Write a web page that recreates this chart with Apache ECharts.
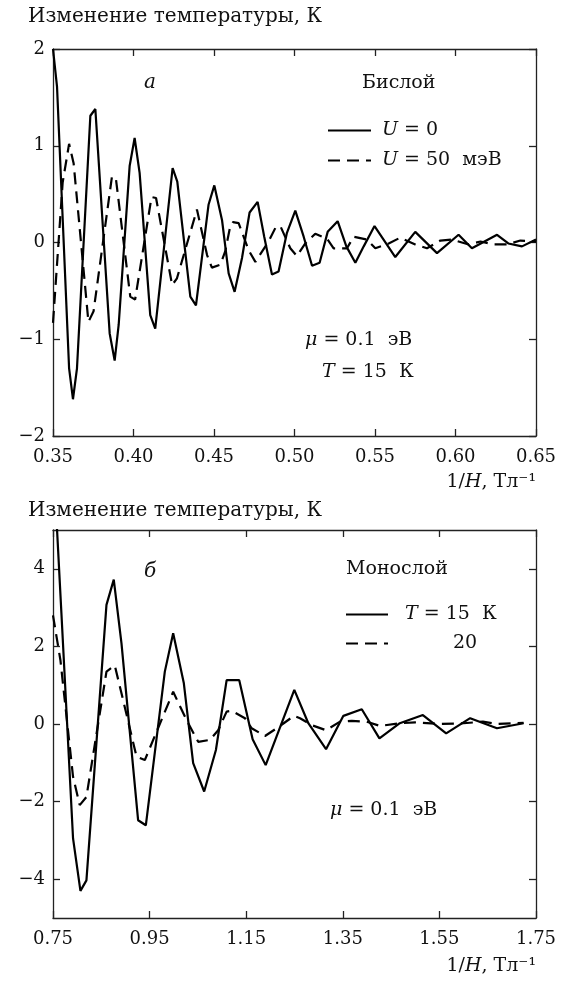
<!DOCTYPE html>
<html>
<head>
<meta charset="utf-8">
<script src="https://cdn.jsdelivr.net/npm/echarts@6/dist/echarts.min.js"></script>
<style>
  html, body { margin: 0; padding: 0; background: #fff; }
  #main { width: 567px; height: 981px; }
</style>
</head>
<body>
<div id="main"></div>
<script>
// --- данные: бислой (верхний график)
var biU0X = [0.350,0.3525,0.360,0.3624,0.3649,0.3732,0.3763,0.3852,0.3883,0.3908,0.3976,0.4007,0.4038,0.4104,0.4135,0.4243,0.4272,0.4353,0.4388,0.4466,0.4502,0.4550,0.4591,0.4628,0.4674,0.4721,0.4771,0.4812,0.4860,0.4901,0.4953,0.5005,0.5057,0.5109,0.5156,0.5206,0.5268,0.5322,0.5378,0.5430,0.5497,0.5626,0.5750,0.5885,0.6019,0.6102,0.6258,0.6328,0.6413,0.650];
var biU0Y = [2.00,1.61,-1.30,-1.62,-1.30,1.31,1.38,-0.94,-1.22,-0.85,0.79,1.08,0.72,-0.75,-0.89,0.77,0.63,-0.56,-0.65,0.39,0.59,0.23,-0.32,-0.51,-0.16,0.31,0.42,0.06,-0.33,-0.30,0.10,0.33,0.06,-0.24,-0.21,0.11,0.22,-0.04,-0.21,-0.04,0.17,-0.15,0.11,-0.11,0.08,-0.06,0.08,-0.01,-0.04,0.03];
var biU50X = [0.350,0.3560,0.3600,0.3628,0.3720,0.3752,0.3866,0.3890,0.3980,0.4010,0.4112,0.4140,0.4240,0.4270,0.4394,0.4457,0.4487,0.4539,0.4570,0.4601,0.4618,0.4653,0.4715,0.4757,0.4839,0.4881,0.4912,0.4974,0.5015,0.5067,0.5129,0.5202,0.5243,0.5326,0.5367,0.5450,0.5502,0.5585,0.5657,0.5750,0.5823,0.5906,0.5978,0.6082,0.6155,0.6238,0.6321,0.6403,0.650];
var biU50Y = [-0.83,0.62,1.02,0.82,-0.82,-0.71,0.68,0.67,-0.56,-0.59,0.47,0.46,-0.44,-0.37,0.34,-0.13,-0.26,-0.23,-0.09,0.17,0.21,0.20,-0.08,-0.20,0.01,0.15,0.17,-0.06,-0.14,-0.01,0.09,0.04,-0.06,-0.06,0.06,0.03,-0.06,-0.01,0.05,-0.02,-0.06,0.02,0.03,-0.02,0.01,-0.02,-0.02,0.02,0.01];

// --- данные: монослой (нижний график)
var monoT15X = [0.750,0.7674,0.7915,0.8068,0.8192,0.8607,0.8758,0.8918,0.9262,0.9422,0.9815,0.9988,1.0209,1.0402,1.0630,1.0873,1.1095,1.1356,1.1633,1.1903,1.2496,1.2786,1.3153,1.3512,1.3893,1.4258,1.4680,1.5158,1.5640,1.6137,1.6692,1.7243];
var monoT15Y = [7.0,2.86,-2.95,-4.30,-4.03,3.07,3.72,2.08,-2.48,-2.61,1.35,2.34,1.05,-1.01,-1.74,-0.67,1.13,1.13,-0.39,-1.06,0.88,0.02,-0.65,0.21,0.38,-0.37,0.02,0.23,-0.24,0.15,-0.11,0.02];
var monoT20X = [0.750,0.7653,0.7915,0.8053,0.8192,0.8607,0.8779,0.8951,0.9229,0.9401,0.9988,1.0265,1.0506,1.0748,1.0920,1.1095,1.1198,1.1474,1.1613,1.1889,1.2131,1.2490,1.2614,1.2857,1.3153,1.3443,1.3686,1.3997,1.4273,1.4680,1.5000,1.5500,1.6000,1.6400,1.6700,1.7243];
var monoT20Y = [2.80,1.65,-1.36,-2.09,-1.88,1.35,1.51,0.62,-0.84,-0.93,0.83,0.10,-0.46,-0.41,-0.16,0.32,0.34,0.15,-0.11,-0.31,-0.11,0.21,0.15,-0.03,-0.16,0.06,0.08,0.06,-0.05,0.02,0.04,0.00,0.02,0.06,0.00,0.03];

// --- деления осей
var biXTicks = [0.35,0.40,0.45,0.50,0.55,0.60,0.65];
var biYTicks = [-2,-1,0,1,2];
var monoXTicks = [0.75,0.95,1.15,1.35,1.55,1.75];
var monoYTicks = [-4,-2,0,2,4];

var FONT = '"DejaVu Serif", serif';
var INK = '#111';

function zip(xs, ys) {
    var out = [];
    for (var i = 0; i < xs.length; i++) out.push([xs[i], ys[i]]);
    return out;
}

function minus(s) {
    return String(s).replace('-', '\u2212');
}

function makeAxis(grid, pos, min, max, ticks, labels, digits) {
    return {
        type: 'value',
        gridIndex: grid,
        position: pos,
        min: min,
        max: max,
        axisLine: { show: true, onZero: false, lineStyle: { color: '#222', width: 1.3 } },
        axisTick: { show: true, inside: true, length: 7, customValues: ticks, lineStyle: { color: '#222', width: 1.3 } },
        axisLabel: {
            show: labels,
            customValues: ticks,
            margin: (pos == 'bottom') ? 12 : 8,
            color: INK,
            fontFamily: FONT,
            fontSize: 18,
            formatter: function (v) { return minus(digits ? v.toFixed(digits) : v); }
        },
        splitLine: { show: false }
    };
}

function txt(x, y, text, size, align, italic) {
    return {
        type: 'text',
        x: x,
        y: y,
        style: {
            text: text,
            fill: INK,
            font: (italic ? 'italic ' : '') + size + 'px ' + FONT,
            align: align || 'left',
            verticalAlign: 'middle',
            rich: {
                i: { fontStyle: 'italic', fontFamily: FONT, fontSize: size, fill: INK }
            }
        }
    };
}

function lineSeries(name, data, xi, yi, dashed) {
    return {
        name: name,
        type: 'line',
        xAxisIndex: xi,
        yAxisIndex: yi,
        data: data,
        symbol: 'none',
        clip: true,
        animation: false,
        itemStyle: { color: '#000' },
        lineStyle: { color: '#000', width: 2.2, type: dashed ? [12, 7] : 'solid' }
    };
}

var chart = echarts.init(document.getElementById('main'), null, { renderer: 'canvas' });

var option = {
    backgroundColor: '#fff',
    animation: false,
    grid: [
        { left: 53, top: 49, width: 483, height: 387 },
        { left: 53, top: 530, width: 483, height: 388 }
    ],
    xAxis: [
        makeAxis(0, 'bottom', 0.35, 0.65, biXTicks, true, 2),
        makeAxis(0, 'top', 0.35, 0.65, biXTicks, false, 2),
        makeAxis(1, 'bottom', 0.75, 1.75, monoXTicks, true, 2),
        makeAxis(1, 'top', 0.75, 1.75, monoXTicks, false, 2)
    ],
    yAxis: [
        makeAxis(0, 'left', -2, 2, biYTicks, true, 0),
        makeAxis(0, 'right', -2, 2, biYTicks, false, 0),
        makeAxis(1, 'left', -5, 5, monoYTicks, true, 0),
        makeAxis(1, 'right', -5, 5, monoYTicks, false, 0)
    ],
    legend: [
        {
            data: ['U0', 'U50'],
            left: 327, top: 121, orient: 'vertical',
            itemWidth: 43, itemHeight: 14, itemGap: 11, padding: 0,
            selectedMode: false,
            itemStyle: { opacity: 0 },
            formatter: function (n) {
                return n == 'U0' ? '{g|}{i|U} = 0' : '{g|}{i|U} = 50  мэВ';
            },
            textStyle: {
                color: INK, fontFamily: FONT, fontSize: 19,
                rich: { g: { width: 6 }, i: { fontStyle: 'italic', fontFamily: FONT, fontSize: 19, color: INK } }
            }
        },
        {
            data: ['T15', 'T20'],
            left: 345, top: 605, orient: 'vertical',
            itemWidth: 42, itemHeight: 14, itemGap: 10, padding: 0,
            selectedMode: false,
            itemStyle: { opacity: 0 },
            formatter: function (n) {
                return n == 'T15' ? '{g|}{i|T} = 15  К' : '{h|}20';
            },
            textStyle: {
                color: INK, fontFamily: FONT, fontSize: 19,
                rich: { g: { width: 12 }, h: { width: 60 }, i: { fontStyle: 'italic', fontFamily: FONT, fontSize: 19, color: INK } }
            }
        }
    ],
    graphic: [
        txt(28, 17, 'Изменение температуры, К', 20),
        txt(150, 83, 'а', 20, 'center', true),
        txt(362, 83, 'Бислой', 19),
        txt(305, 340, '{i|μ} = 0.1  эВ', 19),
        txt(322, 372, '{i|T} = 15  К', 19),
        txt(536, 482, '1/{i|H}, Тл⁻¹', 19, 'right'),
        txt(28, 511, 'Изменение температуры, К', 20),
        txt(150, 572, 'б', 20, 'center', true),
        txt(346, 569, 'Монослой', 19),
        txt(330, 810, '{i|μ} = 0.1  эВ', 19),
        txt(536, 966, '1/{i|H}, Тл⁻¹', 19, 'right')
    ],
    series: [
        lineSeries('U0', zip(biU0X, biU0Y), 0, 0, false),
        lineSeries('U50', zip(biU50X, biU50Y), 0, 0, true),
        lineSeries('T15', zip(monoT15X, monoT15Y), 2, 2, false),
        lineSeries('T20', zip(monoT20X, monoT20Y), 2, 2, true)
    ]
};

chart.setOption(option);
</script>
</body>
</html>
